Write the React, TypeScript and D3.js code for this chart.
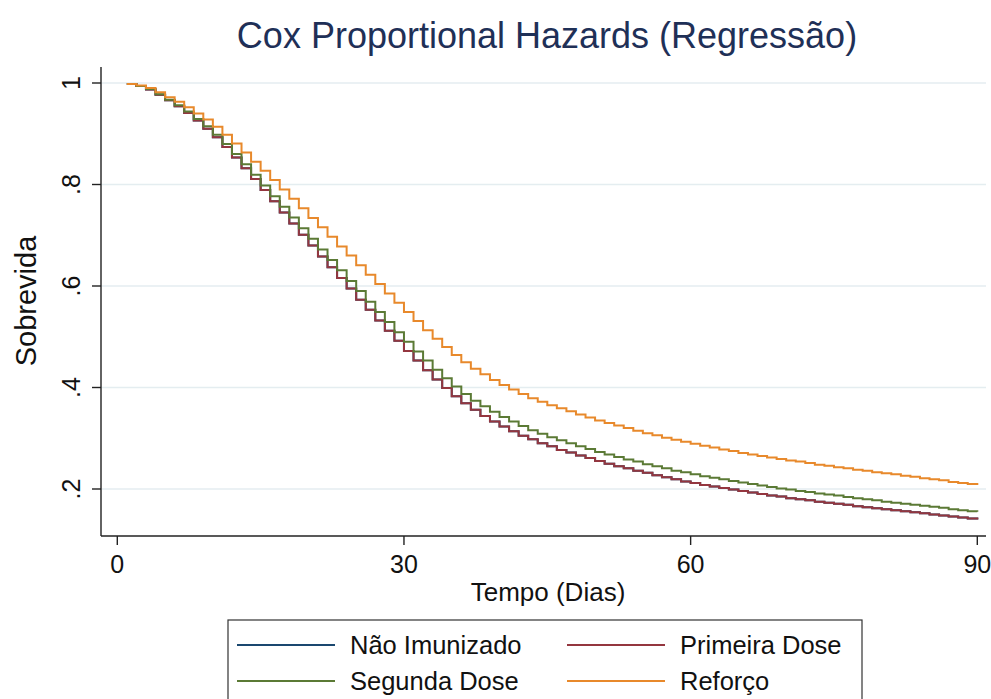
import React, { useRef, useEffect } from 'react';
import * as d3 from 'd3';

// dias de seguimento (1..90)
const dias: number[] = d3.range(1, 91);

// sobrevida estimada por grupo (um valor por dia)
const naoImunizado = [
  0.998, 0.994, 0.987, 0.977, 0.966, 0.954, 0.941, 0.926, 0.910, 0.893,
  0.874, 0.853, 0.832, 0.811, 0.789, 0.767, 0.745, 0.723, 0.701, 0.680,
  0.658, 0.637, 0.616, 0.595, 0.573, 0.553, 0.532, 0.512, 0.492, 0.472,
  0.453, 0.434, 0.416, 0.399, 0.383, 0.369, 0.356, 0.344, 0.333, 0.323,
  0.314, 0.305, 0.298, 0.290, 0.284, 0.277, 0.272, 0.266, 0.261, 0.255,
  0.250, 0.245, 0.241, 0.236, 0.232, 0.227, 0.223, 0.219, 0.215, 0.212,
  0.208, 0.205, 0.202, 0.199, 0.196, 0.193, 0.190, 0.187, 0.185, 0.182,
  0.180, 0.178, 0.175, 0.173, 0.171, 0.169, 0.166, 0.164, 0.162, 0.160,
  0.158, 0.156, 0.154, 0.152, 0.150, 0.148, 0.146, 0.144, 0.142, 0.140,
];

const primeiraDose = [
  0.998, 0.994, 0.987, 0.977, 0.966, 0.954, 0.941, 0.926, 0.910, 0.893,
  0.874, 0.853, 0.832, 0.811, 0.789, 0.767, 0.745, 0.723, 0.701, 0.680,
  0.658, 0.637, 0.616, 0.595, 0.573, 0.553, 0.532, 0.512, 0.492, 0.472,
  0.453, 0.434, 0.416, 0.399, 0.383, 0.369, 0.356, 0.344, 0.333, 0.323,
  0.314, 0.305, 0.298, 0.290, 0.284, 0.277, 0.272, 0.266, 0.261, 0.255,
  0.250, 0.245, 0.241, 0.236, 0.232, 0.227, 0.223, 0.219, 0.215, 0.212,
  0.208, 0.205, 0.202, 0.199, 0.196, 0.193, 0.190, 0.187, 0.185, 0.182,
  0.180, 0.178, 0.175, 0.173, 0.171, 0.169, 0.166, 0.164, 0.162, 0.160,
  0.158, 0.156, 0.154, 0.152, 0.150, 0.148, 0.146, 0.144, 0.142, 0.140,
];

const segundaDose = [
  0.998, 0.994, 0.988, 0.978, 0.967, 0.956, 0.944, 0.929, 0.915, 0.898,
  0.880, 0.860, 0.840, 0.819, 0.798, 0.777, 0.756, 0.735, 0.714, 0.693,
  0.672, 0.651, 0.631, 0.610, 0.590, 0.569, 0.549, 0.529, 0.509, 0.490,
  0.471, 0.453, 0.435, 0.418, 0.402, 0.387, 0.374, 0.363, 0.352, 0.342,
  0.333, 0.324, 0.316, 0.309, 0.302, 0.296, 0.290, 0.284, 0.279, 0.273,
  0.268, 0.263, 0.258, 0.254, 0.249, 0.245, 0.241, 0.236, 0.233, 0.229,
  0.225, 0.222, 0.219, 0.216, 0.213, 0.210, 0.207, 0.204, 0.201, 0.199,
  0.196, 0.194, 0.191, 0.189, 0.187, 0.184, 0.182, 0.180, 0.178, 0.175,
  0.173, 0.171, 0.169, 0.167, 0.165, 0.163, 0.160, 0.158, 0.156, 0.155,
];

const reforco = [
  0.998, 0.995, 0.990, 0.982, 0.972, 0.963, 0.952, 0.940, 0.928, 0.914,
  0.898, 0.881, 0.863, 0.845, 0.827, 0.809, 0.790, 0.772, 0.753, 0.734,
  0.716, 0.697, 0.678, 0.660, 0.641, 0.622, 0.604, 0.585, 0.567, 0.549,
  0.531, 0.513, 0.496, 0.480, 0.464, 0.450, 0.437, 0.426, 0.415, 0.405,
  0.396, 0.387, 0.379, 0.372, 0.365, 0.359, 0.353, 0.347, 0.341, 0.335,
  0.330, 0.325, 0.320, 0.315, 0.310, 0.306, 0.301, 0.297, 0.293, 0.289,
  0.285, 0.282, 0.278, 0.275, 0.271, 0.268, 0.265, 0.262, 0.259, 0.256,
  0.254, 0.251, 0.248, 0.246, 0.243, 0.241, 0.238, 0.236, 0.233, 0.231,
  0.229, 0.226, 0.224, 0.221, 0.219, 0.217, 0.214, 0.212, 0.210, 0.208,
];

const grupos = ['Não Imunizado', 'Primeira Dose', 'Segunda Dose', 'Reforço'];
const valores = [naoImunizado, primeiraDose, segundaDose, reforco];
const cores = ['#1a476f', '#94363f', '#5b7a35', '#e8892b'];

const xTicks = [0, 30, 60, 90];
const yTicks = [0.2, 0.4, 0.6, 0.8, 1];
const yTickLabels = ['.2', '.4', '.6', '.8', '1'];

const FONT = '"Liberation Sans", Arial, Helvetica, sans-serif';

const App = () => {
  const svgRef = useRef<SVGSVGElement>(null);

  useEffect(() => {
    const svg = d3.select(svgRef.current);
    svg.selectAll('*').remove();

    // plot region (Stata-like layout)
    const left = 101, right = 986, top = 67, bottom = 536;

    const x = d3.scaleLinear().domain([0, 90]).range([117.3, 977.3]);
    const y = d3.scaleLinear().domain([0.2, 1]).range([489, 83]);

    svg.append('rect').attr('width', 991).attr('height', 699).attr('fill', '#fff');

    // gridlines
    svg.append('g')
      .selectAll('line')
      .data(yTicks)
      .enter()
      .append('line')
      .attr('x1', left)
      .attr('x2', right)
      .attr('y1', d => y(d))
      .attr('y2', d => y(d))
      .attr('stroke', '#e4edf0')
      .attr('stroke-width', 1.5);

    // curves (step functions)
    const line = d3.line<number>()
      .x((_, i) => x(dias[i]))
      .y(d => y(d))
      .curve(d3.curveStepAfter);

    valores.forEach((serie, k) => {
      svg.append('path')
        .datum(serie)
        .attr('d', line)
        .attr('fill', 'none')
        .attr('stroke', cores[k])
        .attr('stroke-width', 2);
    });

    // y axis
    const yAxis = svg.append('g');
    yAxis.append('line')
      .attr('x1', left).attr('x2', left)
      .attr('y1', top).attr('y2', bottom)
      .attr('stroke', '#222').attr('stroke-width', 1.4);
    yAxis.selectAll('.tick')
      .data(yTicks)
      .enter()
      .append('line')
      .attr('x1', left - 9).attr('x2', left)
      .attr('y1', d => y(d)).attr('y2', d => y(d))
      .attr('stroke', '#222').attr('stroke-width', 1.4);
    yAxis.selectAll('text')
      .data(yTicks)
      .enter()
      .append('text')
      .attr('transform', d => `translate(80,${y(d)}) rotate(-90)`)
      .attr('text-anchor', 'middle')
      .style('font-family', FONT)
      .style('font-size', '25px')
      .attr('fill', '#111')
      .text((_, i) => yTickLabels[i]);

    // x axis
    const xAxis = svg.append('g');
    xAxis.append('line')
      .attr('x1', left).attr('x2', right)
      .attr('y1', bottom).attr('y2', bottom)
      .attr('stroke', '#222').attr('stroke-width', 1.4);
    xAxis.selectAll('.tick')
      .data(xTicks)
      .enter()
      .append('line')
      .attr('x1', d => x(d)).attr('x2', d => x(d))
      .attr('y1', bottom).attr('y2', bottom + 9)
      .attr('stroke', '#222').attr('stroke-width', 1.4);
    xAxis.selectAll('text')
      .data(xTicks)
      .enter()
      .append('text')
      .attr('x', d => x(d))
      .attr('y', 573)
      .attr('text-anchor', 'middle')
      .style('font-family', FONT)
      .style('font-size', '25px')
      .attr('fill', '#111')
      .text(d => d);

    // axis titles
    svg.append('text')
      .attr('x', 548)
      .attr('y', 601)
      .attr('text-anchor', 'middle')
      .style('font-family', FONT)
      .style('font-size', '26px')
      .attr('fill', '#111')
      .text('Tempo (Dias)');

    svg.append('text')
      .attr('transform', 'translate(36,301) rotate(-90)')
      .attr('text-anchor', 'middle')
      .style('font-family', FONT)
      .style('font-size', '29px')
      .attr('fill', '#111')
      .text('Sobrevida');

    // title
    svg.append('text')
      .attr('x', 547)
      .attr('y', 48)
      .attr('text-anchor', 'middle')
      .style('font-family', FONT)
      .style('font-size', '36px')
      .attr('fill', '#1f3057')
      .text('Cox Proportional Hazards (Regressão)');

    // legend
    const legend = svg.append('g');
    legend.append('rect')
      .attr('x', 228).attr('y', 620)
      .attr('width', 634).attr('height', 110)
      .attr('fill', '#fff')
      .attr('stroke', '#333')
      .attr('stroke-width', 1.2);

    const colX = [237, 567];
    const rowY = [645, 681];
    grupos.forEach((g, k) => {
      const cx = colX[k % 2];
      const cy = rowY[Math.floor(k / 2)];
      legend.append('line')
        .attr('x1', cx).attr('x2', cx + 98)
        .attr('y1', cy).attr('y2', cy)
        .attr('stroke', cores[k])
        .attr('stroke-width', 2);
      legend.append('text')
        .attr('x', cx + 113)
        .attr('y', cy)
        .attr('dominant-baseline', 'central')
        .style('font-family', FONT)
        .style('font-size', '25.5px')
        .attr('fill', '#111')
        .text(g);
    });
  }, []);

  return (
    <svg
      ref={svgRef}
      width={991}
      height={699}
      style={{ position: 'absolute', left: 0, top: 0, display: 'block' }}
    ></svg>
  );
};

export default App;
